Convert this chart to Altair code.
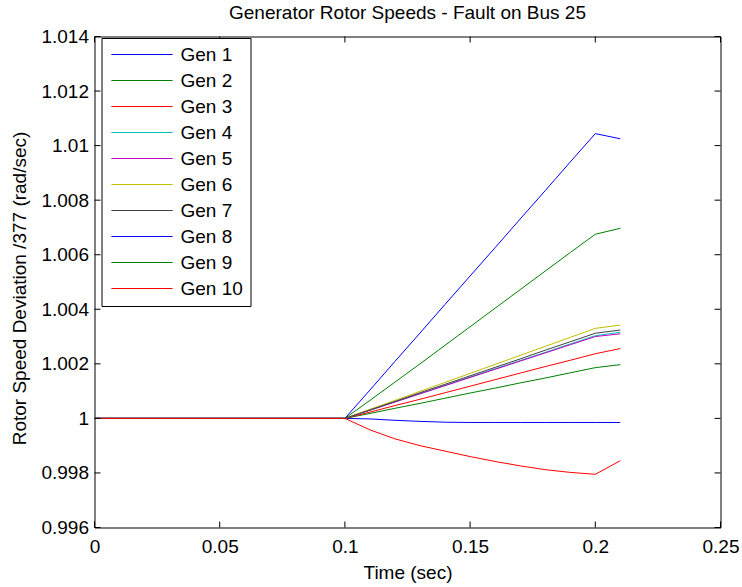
import altair as alt
import pandas as pd

# ---- data ----
time = [0.0, 0.1, 0.11, 0.12, 0.13, 0.14, 0.15, 0.16, 0.17, 0.18, 0.19, 0.20, 0.21]

gen1 = [1.0, 1.0, 0.99998, 0.99993, 0.99989, 0.99986, 0.99985, 0.99985, 0.99985, 0.99985, 0.99985, 0.99985, 0.99985]
gen2 = [1.0, 1.0, 1.00018, 1.00037, 1.00055, 1.00074, 1.00093, 1.00111, 1.0013, 1.00148, 1.00167, 1.00186, 1.00197]
gen3 = [1.0, 1.0, 1.00023, 1.00047, 1.0007, 1.00094, 1.00118, 1.00142, 1.00166, 1.0019, 1.00213, 1.00237, 1.00256]
gen4 = [1.0, 1.0, 1.0003, 1.00061, 1.00091, 1.00121, 1.00152, 1.00182, 1.00212, 1.00242, 1.00273, 1.00303, 1.00316]
gen5 = [1.0, 1.0, 1.0003, 1.0006, 1.0009, 1.0012, 1.0015, 1.0018, 1.0021, 1.0024, 1.0027, 1.003, 1.0031]
gen6 = [1.0, 1.0, 1.00033, 1.00066, 1.00099, 1.00132, 1.00165, 1.00198, 1.00231, 1.00264, 1.00297, 1.0033, 1.00342]
gen7 = [1.0, 1.0, 1.00031, 1.00062, 1.00094, 1.00125, 1.00156, 1.00187, 1.00218, 1.0025, 1.00281, 1.00312, 1.00324]
gen8 = [1.0, 1.0, 1.00104, 1.00209, 1.00313, 1.00418, 1.00522, 1.00626, 1.00731, 1.00835, 1.0094, 1.01044, 1.01025]
gen9 = [1.0, 1.0, 1.00066, 1.00133, 1.002, 1.00268, 1.00336, 1.00404, 1.00472, 1.0054, 1.00608, 1.00675, 1.00697]
gen10 = [1.0, 1.0, 0.99958, 0.99925, 0.999, 0.9988, 0.9986, 0.99842, 0.99826, 0.99812, 0.99802, 0.99795, 0.99845]

gen_names = ["Gen 1", "Gen 2", "Gen 3", "Gen 4", "Gen 5",
             "Gen 6", "Gen 7", "Gen 8", "Gen 9", "Gen 10"]
gen_colors = ["#0000ff", "#008000", "#ff0000", "#00bfbf", "#bf00bf",
              "#bfbf00", "#404040", "#0000ff", "#008000", "#ff0000"]

x_ticks = [0.0, 0.05, 0.1, 0.15, 0.2, 0.25]
y_ticks = [0.996, 0.998, 1.0, 1.002, 1.004, 1.006, 1.008, 1.01, 1.012, 1.014]

# ---- build table ----
series = [gen1, gen2, gen3, gen4, gen5, gen6, gen7, gen8, gen9, gen10]
rows = []
for name, vals in zip(gen_names, series):
    for t, v in zip(time, vals):
        rows.append({"Time": t, "Speed": v, "Gen": name})
df = pd.DataFrame(rows)
xt_df = pd.DataFrame({"Time": x_ticks})
yt_df = pd.DataFrame({"Speed": y_ticks})

FONT = "Liberation Sans"
FS = 19
W, H = 626, 491
TICK = 6

xs = alt.Scale(domain=[0, 0.25], nice=False, zero=False)
ys = alt.Scale(domain=[0.996, 1.014], nice=False, zero=False)

x_axis = alt.Axis(values=x_ticks, format=".3~g", title="Time (sec)",
                  grid=False, ticks=False, domain=False,
                  labelPadding=10, labelFont=FONT, labelFontSize=FS, labelColor="black",
                  titleFont=FONT, titleFontSize=FS, titleFontWeight="normal", titleColor="black",
                  titleX=W / 2, titleY=45, titleBaseline="middle", titleAlign="center",
                  labelFlush=False, labelOverlap=False)
y_axis = alt.Axis(values=y_ticks, format=".4~g", title="Rotor Speed Deviation /377 (rad/sec)",
                  grid=False, ticks=False, domain=False,
                  labelPadding=6, labelFont=FONT, labelFontSize=FS, labelColor="black",
                  titleFont=FONT, titleFontSize=FS, titleFontWeight="normal", titleColor="black",
                  titleX=-75, titleY=H / 2 + 6, titleAngle=270, titleBaseline="middle", titleAlign="center",
                  labelFlush=False, labelOverlap=False)

X = alt.X("Time:Q", scale=xs, axis=x_axis)
Y = alt.Y("Speed:Q", scale=ys, axis=y_axis)

lines = alt.Chart(df).mark_line(strokeWidth=1, clip=True).encode(
    x=X,
    y=Y,
    color=alt.Color(
        "Gen:N",
        scale=alt.Scale(domain=gen_names, range=gen_colors),
        legend=alt.Legend(
            orient="none", legendX=7, legendY=1.5, title=None,
            symbolType="M-3.6,0L3.6,0", symbolSize=289, symbolStrokeWidth=1,
            symbolOffset=24, labelOffset=29,
            padding=7, rowPadding=6,
            strokeColor="black", fillColor="white", cornerRadius=0,
            labelFont=FONT, labelFontSize=FS, labelColor="black",
            labelLimit=200,
        ),
    ),
    detail="Gen:N",
)

xt_bottom = alt.Chart(xt_df).mark_rule(color="black", strokeWidth=1).encode(
    x=X, y=alt.value(H), y2=alt.value(H - TICK))
xt_top = alt.Chart(xt_df).mark_rule(color="black", strokeWidth=1).encode(
    x=X, y=alt.value(0), y2=alt.value(TICK))
yt_left = alt.Chart(yt_df).mark_rule(color="black", strokeWidth=1).encode(
    y=Y, x=alt.value(0), x2=alt.value(TICK))
yt_right = alt.Chart(yt_df).mark_rule(color="black", strokeWidth=1).encode(
    y=Y, x=alt.value(W), x2=alt.value(W - TICK))

chart = alt.layer(lines, xt_bottom, xt_top, yt_left, yt_right).properties(
    width=W, height=H,
    title=alt.TitleParams("Generator Rotor Speeds - Fault on Bus 25",
                          font=FONT, fontSize=FS, fontWeight="normal", color="black",
                          anchor="middle", offset=5),
    padding={"left": 94.5, "top": 36.5, "right": 21.5, "bottom": 59.5},
    autosize=alt.AutoSizeParams(type="none"),
    background="white",
).configure_view(stroke="black", strokeWidth=1)

chart.save("out.html", embed_options={"renderer": "svg", "actions": False})
